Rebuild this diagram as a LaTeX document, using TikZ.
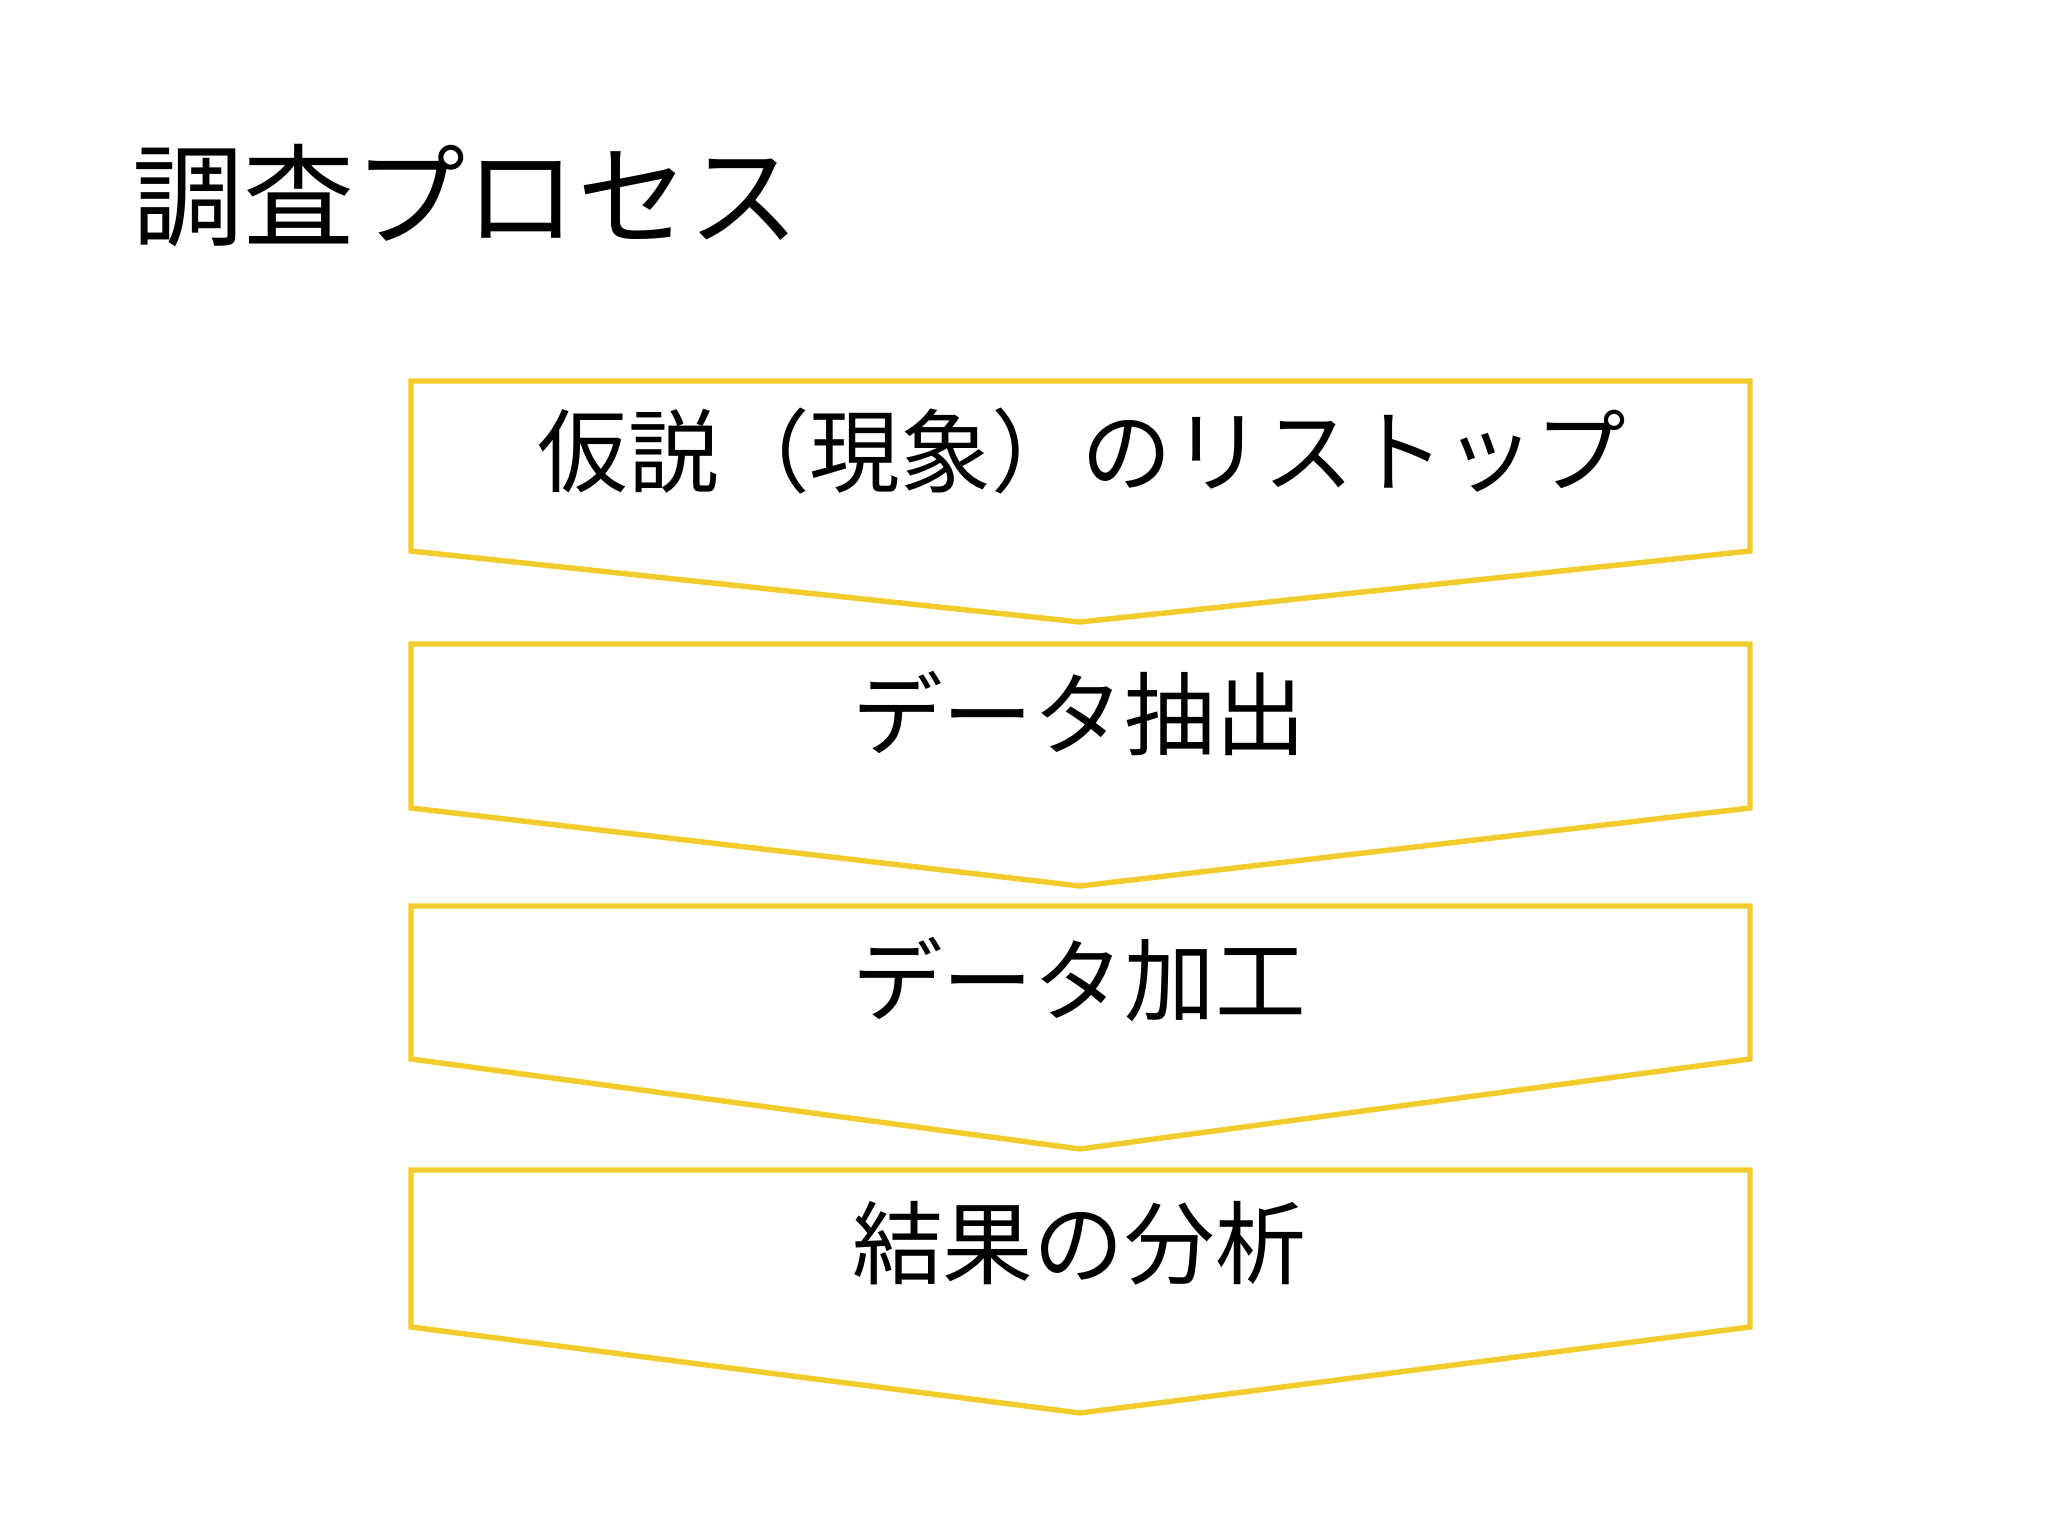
\documentclass[tikz,border=0pt]{standalone}
\usepackage{fontspec}
\setmainfont{Noto Sans CJK JP}
\usetikzlibrary{positioning, calc}
\definecolor{flowyellow}{HTML}{F2CB2C}
\tikzset{step shape/.style={draw=flowyellow, line width=1.55pt, fill=white, line join=miter}}
\tikzset{step text/.style={font=\fontsize{25.8pt}{30pt}\selectfont, inner sep=0pt}}

\begin{document}
\begin{tikzpicture}[x=1cm, y=1cm]
      \useasboundingbox (0,0) rectangle (20.48,-15.36);

      \node[font=\fontsize{31.6pt}{36pt}\selectfont, inner sep=0pt] (title) at (4.66,-1.96) {調査プロセス};

      % chevrons
      \draw[step shape] (4.11,-3.81) -- (17.50,-3.81) -- (17.50,-5.51) -- (10.80,-6.22) -- (4.11,-5.51) -- cycle;
      \draw[step shape] (4.11,-6.44) -- (17.50,-6.44) -- (17.50,-8.08) -- (10.80,-8.86) -- (4.11,-8.08) -- cycle;
      \draw[step shape] (4.11,-9.06) -- (17.50,-9.06) -- (17.50,-10.59) -- (10.80,-11.49) -- (4.11,-10.59) -- cycle;
      \draw[step shape] (4.11,-11.70) -- (17.50,-11.70) -- (17.50,-13.27) -- (10.80,-14.13) -- (4.11,-13.27) -- cycle;

      \node[step text] (s1) at (10.82,-4.51) {仮説（現象）のリストップ};
      \node[step text] (s2) at (10.79,-7.13) {データ抽出};
      \node[step text] (s3) at (10.79,-9.80) {データ加工};
      \node[step text] (s4) at (10.79,-12.43) {結果の分析};

    \end{tikzpicture}
\end{document}
